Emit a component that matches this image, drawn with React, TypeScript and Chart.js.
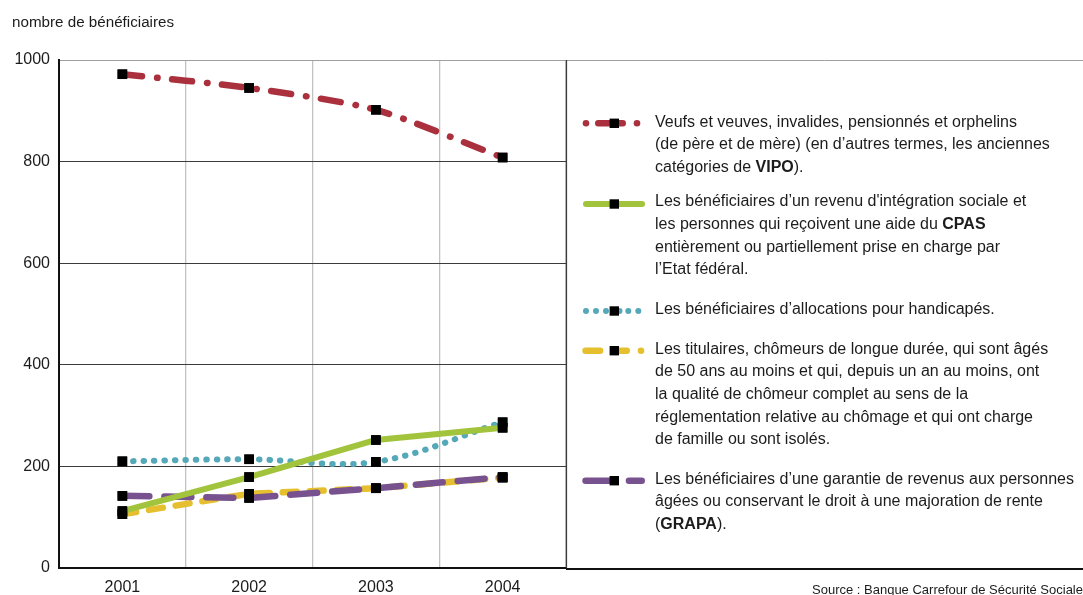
import { useEffect, useRef } from "react";
import { Chart, registerables } from "chart.js";

Chart.register(...registerables);

// Categories and series (nombre de bénéficiaires, in thousands)
const years = ["2001", "2002", "2003", "2004"];
const vipo = [972, 945, 902, 808];
const cpas = [112, 179, 252, 276];
const handicapes = [210, 214, 209, 287];
const chomeurs = [106, 146, 157, 178];
const grapa = [142, 138, 157, 179];
const yTicks = [0, 200, 400, 600, 800, 1000];

const RED = "#a9303c";
const GREEN = "#a2c43d";
const TEAL = "#55a8b8";
const YELLOW = "#e6bf2f";
const PURPLE = "#77528f";

const W = 1083;
const H = 595;
const FONT = '"Liberation Sans", Arial, sans-serif';

type Ctx = CanvasRenderingContext2D;

function seg(ctx: Ctx, x1: number, x2: number, y: number, color: string, w: number) {
  // x1/x2 are the visible ends, caps included
  ctx.beginPath();
  ctx.strokeStyle = color;
  ctx.lineWidth = w;
  ctx.lineCap = "round";
  ctx.moveTo(x1 + w / 2, y);
  ctx.lineTo(x2 - w / 2, y);
  ctx.stroke();
}

function dot(ctx: Ctx, x: number, y: number, color: string, r: number) {
  ctx.beginPath();
  ctx.fillStyle = color;
  ctx.arc(x, y, r, 0, Math.PI * 2);
  ctx.fill();
}

function square(ctx: Ctx, x: number, y: number) {
  ctx.fillStyle = "#000";
  ctx.fillRect(x - 4.7, y - 4.7, 9.4, 9.4);
}

const framePlugin = {
  id: "frame",
  afterDatasetsDraw(chart: any) {
    // markers sit above every line
    const ctx = chart.ctx;
    const metas = chart.getSortedVisibleDatasetMetas();
    for (let i = metas.length - 1; i >= 0; i--) {
      metas[i].data.forEach((p: any) => p.draw(ctx, chart.chartArea));
    }
  },
  afterDraw(chart: any) {
    const ctx: Ctx = chart.ctx;
    const { right, top, bottom } = chart.chartArea;
    ctx.save();
    // legend box
    ctx.beginPath();
    ctx.strokeStyle = "#a0a0a0";
    ctx.lineWidth = 1;
    ctx.moveTo(right, top + 0.5);
    ctx.lineTo(W, top + 0.5);
    ctx.stroke();
    ctx.beginPath();
    ctx.strokeStyle = "#3a3a3a";
    ctx.lineWidth = 1.2;
    ctx.moveTo(right + 0.5, top);
    ctx.lineTo(right + 0.5, bottom);
    ctx.stroke();
    ctx.beginPath();
    ctx.strokeStyle = "#111";
    ctx.lineWidth = 2;
    ctx.moveTo(right, bottom + 1);
    ctx.lineTo(W, bottom + 1);
    ctx.stroke();

    // legend symbols
    let y = 123.3;
    dot(ctx, 586, y, RED, 3.3);
    seg(ctx, 595, 626, y, RED, 6.5);
    dot(ctx, 637, y, RED, 3.3);
    square(ctx, 614.3, y);

    y = 204;
    seg(ctx, 583, 645, y, GREEN, 6);
    square(ctx, 614.3, y);

    y = 311;
    [586, 596, 606, 628.3, 638.3].forEach((x) => dot(ctx, x, y, TEAL, 3));
    dot(ctx, 619.5, y, TEAL, 3);
    square(ctx, 614.3, y);

    y = 350.7;
    seg(ctx, 582.3, 603.3, y, YELLOW, 6.5);
    seg(ctx, 611, 630, y, YELLOW, 6.5);
    dot(ctx, 641, y, YELLOW, 3.3);
    square(ctx, 614.3, y);

    y = 480.7;
    seg(ctx, 582.3, 616, y, PURPLE, 6.5);
    seg(ctx, 625.7, 645, y, PURPLE, 6.5);
    square(ctx, 614.3, y);
    ctx.restore();
  },
};

const point = {
  pointStyle: "rect" as const,
  pointRadius: 6.8,
  pointBackgroundColor: "#000",
  pointBorderWidth: 0,
  pointHoverRadius: 6.8,
  borderCapStyle: "round" as const,
  borderJoinStyle: "round" as const,
  fill: false,
};

const legendItems: { top: number; lines: React.ReactNode[] }[] = [
  {
    top: 110.6,
    lines: [
      "Veufs et veuves, invalides, pensionnés et orphelins",
      "(de père et de mère) (en d’autres termes, les anciennes",
      <>catégories de <b>VIPO</b>).</>,
    ],
  },
  {
    top: 190.3,
    lines: [
      "Les bénéficiaires d’un revenu d'intégration sociale et",
      <>les personnes qui reçoivent une aide du <b>CPAS</b></>,
      "entièrement ou partiellement prise en charge par",
      "l’Etat fédéral.",
    ],
  },
  {
    top: 298,
    lines: ["Les bénéficiaires d’allocations pour handicapés."],
  },
  {
    top: 337.6,
    lines: [
      "Les titulaires, chômeurs de longue durée, qui sont âgés",
      "de 50 ans au moins et qui, depuis un an au moins, ont",
      "la qualité de chômeur complet au sens de la",
      "réglementation relative au chômage et qui ont charge",
      "de famille ou sont isolés.",
    ],
  },
  {
    top: 467.6,
    lines: [
      "Les bénéficiaires d’une garantie de revenus aux personnes",
      "âgées ou conservant le droit à une majoration de rente",
      <>(<b>GRAPA</b>).</>,
    ],
  },
];

export default function App() {
  const canvasRef = useRef<HTMLCanvasElement | null>(null);

  useEffect(() => {
    if (!canvasRef.current) return;
    const chart = new Chart(canvasRef.current, {
      type: "line",
      data: {
        labels: years,
        datasets: [
          {
            label: "VIPO",
            data: vipo,
            borderColor: RED,
            borderWidth: 6.5,
            borderDash: [20, 15, 0.5, 14.5],
            tension: 0.25,
            order: 4,
            ...point,
          },
          {
            label: "CPAS",
            data: cpas,
            borderColor: GREEN,
            borderWidth: 6,
            tension: 0,
            order: 0,
            ...point,
          },
          {
            label: "Handicapés",
            data: handicapes,
            borderColor: TEAL,
            borderWidth: 6,
            borderDash: [0.5, 10],
            tension: 0.35,
            order: 3,
            ...point,
          },
          {
            label: "Chômeurs âgés",
            data: chomeurs,
            borderColor: YELLOW,
            borderWidth: 6.5,
            borderDash: [14, 13],
            tension: 0,
            order: 2,
            ...point,
          },
          {
            label: "GRAPA",
            data: grapa,
            borderColor: PURPLE,
            borderWidth: 6.5,
            borderDash: [27, 15],
            tension: 0,
            order: 1,
            ...point,
          },
        ],
      },
      options: {
        responsive: false,
        animation: false,
        devicePixelRatio: 1,
        layout: { padding: { top: 60, right: W - 566, left: 0, bottom: 0 } },
        plugins: {
          legend: { display: false },
          tooltip: { enabled: false },
          title: { display: false },
        },
        scales: {
          x: {
            type: "category",
            offset: true,
            grid: {
              offset: true,
              drawTicks: false,
              color: "#c2c2c2",
              lineWidth: 1.3,
            },
            border: { display: true, color: "#111", width: 2 },
            ticks: {
              padding: 10,
              color: "#1c1c1c",
              font: { family: FONT, size: 16 },
              maxRotation: 0,
            },
            afterFit: (s: any) => {
              s.height = 27;
            },
          },
          y: {
            min: yTicks[0],
            max: yTicks[yTicks.length - 1],
            ticks: {
              stepSize: yTicks[1] - yTicks[0],
              padding: 9,
              color: "#1c1c1c",
              font: { family: FONT, size: 16 },
              callback: (v: any) => String(v),
            },
            grid: {
              drawTicks: false,
              lineWidth: 1,
              color: (c: any) =>
                c.tick && c.tick.value === yTicks[yTicks.length - 1]
                  ? "#a0a0a0"
                  : c.tick && c.tick.value === yTicks[0]
                  ? "rgba(0,0,0,0)"
                  : "#3c3c3c",
            },
            border: { display: true, color: "#111", width: 2 },
            afterFit: (s: any) => {
              s.width = 59;
            },
          },
        },
      },
      plugins: [framePlugin],
    } as any);
    return () => chart.destroy();
  }, []);

  return (
    <div
      style={{
        position: "absolute",
        left: 0,
        top: 0,
        width: W,
        height: H,
        overflow: "hidden",
        background: "#fff",
        fontFamily: FONT,
        color: "#1c1c1c",
      }}
    >
      <canvas
        ref={canvasRef}
        width={W}
        height={H}
        style={{ position: "absolute", left: 0, top: 0, width: W, height: H }}
      />
      <div
        style={{
          position: "absolute",
          left: 12,
          top: 10.7,
          fontSize: 15.2,
          lineHeight: "22px",
          whiteSpace: "nowrap",
        }}
      >
        nombre de bénéficiaires
      </div>
      {legendItems.map((item, i) => (
        <div
          key={i}
          style={{
            position: "absolute",
            left: 655,
            top: item.top,
            fontSize: 16,
            lineHeight: "22.7px",
            whiteSpace: "nowrap",
          }}
        >
          {item.lines.map((l, j) => (
            <div key={j}>{l}</div>
          ))}
        </div>
      ))}
      <div
        style={{
          position: "absolute",
          left: 812,
          top: 582,
          fontSize: 13,
          lineHeight: "16px",
          whiteSpace: "nowrap",
        }}
      >
        Source : Banque Carrefour de Sécurité Sociale.
      </div>
    </div>
  );
}
